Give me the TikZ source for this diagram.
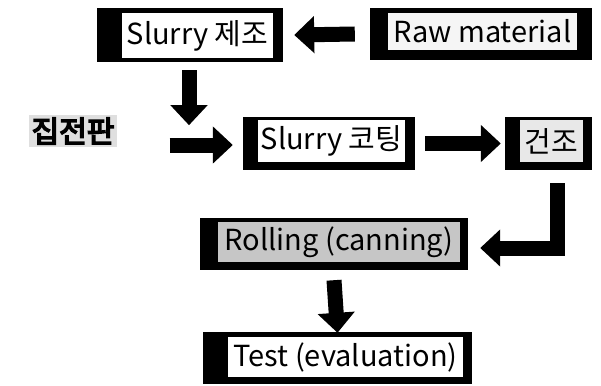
\documentclass[tikz,border=0pt]{standalone}
\usepackage{fontspec}
\setmainfont{Noto Sans CJK KR}
\newfontfamily\heavyfont[FakeBold=5]{Noto Sans CJK KR}
\usetikzlibrary{arrows.meta}
\tikzset{
  outer/.style={fill=black, inner sep=0pt},
  inner/.style={inner sep=0pt, font=\fontsize{29}{32}\selectfont},
  blk/.style={line width=15pt, -{Triangle[width=36pt,length=20pt]}},
}
\begin{document}
\begin{tikzpicture}[x=1pt,y=-1pt]
  \useasboundingbox (0,0) rectangle (601,385);
  % process boxes
  \node[outer, minimum width=186pt, minimum height=54pt] (sm) at (190,35) {};
  \node[inner, fill=white, minimum width=151pt, minimum height=45pt] (smt) at (197.5,35.5) {Slurry 제조};
  \node[outer, minimum width=222pt, minimum height=52pt] (raw) at (481,34) {};
  \node[inner, fill=gray!8, minimum width=189pt, minimum height=37pt] (rawt) at (482.5,31.5) {Raw material};
  \node[outer, minimum width=172pt, minimum height=53pt] (coat) at (329,143.5) {};
  \node[inner, fill=white, minimum width=147pt, minimum height=42pt] (coatt) at (331.5,141) {Slurry 코팅};
  \node[outer, minimum width=87pt, minimum height=53pt] (dry) at (548.5,143.5) {};
  \node[inner, fill=gray!18, minimum width=63pt, minimum height=42pt] (dryt) at (551.5,141) {건조};
  \node[outer, minimum width=268pt, minimum height=52pt] (roll) at (334,244) {};
  \node[inner, fill=gray!45, minimum width=242pt, minimum height=40pt] (rollt) at (339,242) {Rolling (canning)};
  \node[outer, minimum width=269pt, minimum height=52pt] (test) at (337.5,358) {};
  \node[inner, fill=white, minimum width=235pt, minimum height=40pt] (testt) at (345.5,357) {Test (evaluation)};
  \node[font=\heavyfont\fontsize{30}{33}\selectfont, fill=gray!25, inner sep=3pt] (cc) at (73,131) {집전판};
  % arrows
  \draw[blk] ([xshift=-15pt]raw.west) -- ([xshift=11pt]sm.east);
  \draw[blk] ([xshift=-1pt,yshift=-8pt]sm.south) -- ([xshift=-1pt,yshift=-63pt]sm.south);
  \draw[blk] ([xshift=52pt,yshift=-14pt]cc.east) -- ([xshift=-10pt,yshift=-1.5pt]coat.west);
  \draw[blk] ([xshift=10pt]coat.east) -- ([xshift=-4pt]dry.west);
  \draw[blk] ([xshift=9pt,yshift=-13pt]dry.south) |- ([xshift=12pt,yshift=-4pt]roll.east);
  \draw[blk] ([yshift=-10pt]roll.south) -- ([yshift=-1pt]test.north);
\end{tikzpicture}
\end{document}
